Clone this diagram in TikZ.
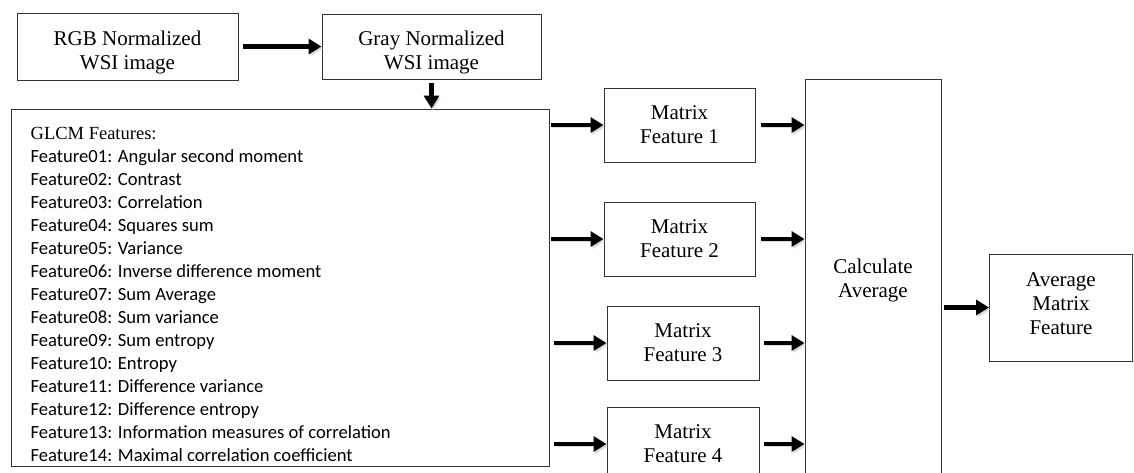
\documentclass[tikz,border=0pt]{standalone}
\usepackage{fontspec}
\setmainfont{Liberation Serif}
\newfontfamily\listfont{Carlito}
\usetikzlibrary{arrows.meta}

\begin{document}
\begin{tikzpicture}[x=1pt, y=-1pt,
  box/.style={draw=black!80, line width=1pt, align=center, inner sep=0pt, font=\fontsize{21}{24}\selectfont},
  boxtext/.style={align=center, inner sep=0pt, font=\fontsize{21}{24}\selectfont},
  arr/.style={line width=4.5pt, -{Triangle[length=13pt, width=15pt]},
    preaction={draw=black!20, opacity=0.7, transform canvas={shift={(1.5pt,-2pt)}}}}]
  \useasboundingbox (0,0) rectangle (1134,472);
  \node[box, minimum width=221pt, minimum height=67pt] (rgb) at (127.5,46.5) {};
  \node[box, minimum width=219pt, minimum height=65pt] (gray) at (431.5,46.5) {};
  % box texts run a little low, the descenders are cut
  \begin{scope}
    \clip (rgb.north west) rectangle ([yshift=4pt]rgb.south east);
    \node[boxtext] (rgbtext) at ([yshift=-5.5pt]rgb.center) {RGB Normalized\\WSI image};
  \end{scope}
  \begin{scope}
    \clip (gray.north west) rectangle ([yshift=4pt]gray.south east);
    \node[boxtext] (graytext) at ([yshift=-6pt]gray.center) {Gray Normalized\\WSI image};
  \end{scope}
  \node[box, minimum width=538pt, minimum height=357pt] (glcm) at (280,287.5) {};
  \node[anchor=north west, inner sep=0pt, align=left, font=\listfont\fontsize{18.6}{23}\selectfont]
    (list) at ([shift={(20pt,-19pt)}]glcm.north west)
    {{\rmfamily\fontsize{18.5}{23}\selectfont GLCM Features:}\\
     Feature01: Angular second moment\\
     Feature02: Contrast\\
     Feature03: Correlation\\
     Feature04: Squares sum\\
     Feature05: Variance\\
     Feature06: Inverse difference moment\\
     Feature07: Sum Average\\
     Feature08: Sum variance\\
     Feature09: Sum entropy\\
     Feature10: Entropy\\
     Feature11: Difference variance\\
     Feature12: Difference entropy\\
     Feature13: Information measures of correlation\\
     Feature14: Maximal correlation coefficient};
  \node[box, minimum width=151pt, minimum height=74pt] (m1) at (679.5,125) {Matrix\\Feature 1};
  \node[box, minimum width=151pt, minimum height=74pt] (m2) at (679.5,239) {Matrix\\Feature 2};
  \node[box, minimum width=152pt, minimum height=74pt] (m3) at (683,343) {Matrix\\Feature 3};
  \node[box, minimum width=152pt, minimum height=74pt] (m4) at (683,444) {Matrix\\Feature 4};
  \node[box, minimum width=136pt, minimum height=397pt] (calc) at (873,277.5) {};
  \node[boxtext] (calctext) at ([yshift=-3pt]calc.center) {Calculate\\Average};
  \node[box, minimum width=143pt, minimum height=107pt] (avg) at (1061,307.5) {};
  \node[boxtext] (avgtext) at ([yshift=3.5pt]avg.center) {Average\\Matrix\\Feature};
  % arrows
  \draw[arr] ([xshift=4pt]rgb.east) -- (gray.west);
  \draw[arr] ([yshift=-3pt]gray.south) -- (gray.south |- glcm.north);
  \draw[arr] ([xshift=1pt]glcm.east |- m1.west) -- (m1.west);
  \draw[arr] ([xshift=1pt]glcm.east |- m2.west) -- (m2.west);
  \draw[arr] ([xshift=4pt]glcm.east |- m3.west) -- (m3.west);
  \draw[arr] ([xshift=4pt]glcm.east |- m4.west) -- (m4.west);
  \draw[arr] ([xshift=5pt]m1.east) -- (calc.west |- m1.east);
  \draw[arr] ([xshift=5pt]m2.east) -- (calc.west |- m2.east);
  \draw[arr] ([xshift=4pt]m3.east) -- (calc.west |- m3.east);
  \draw[arr] ([xshift=4pt]m4.east) -- (calc.west |- m4.east);
  \draw[arr] ([xshift=2pt]calc.east |- avg.west) -- (avg.west);
\end{tikzpicture}
\end{document}
